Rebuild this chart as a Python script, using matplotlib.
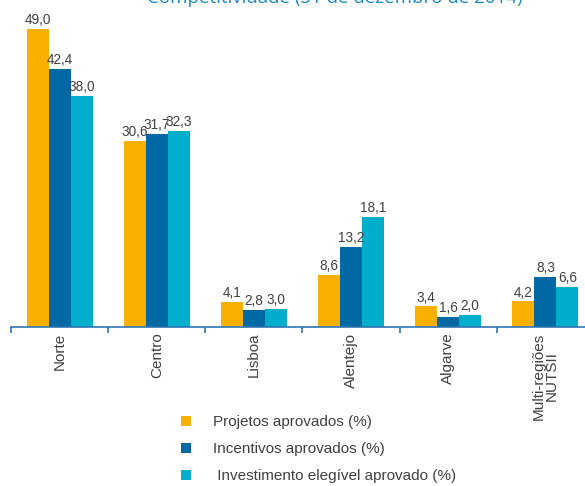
import numpy as np
import matplotlib.pyplot as plt
from matplotlib.patches import Patch

regioes = ["Norte", "Centro", "Lisboa", "Alentejo", "Algarve", "Multi-regiões\nNUTSII"]
projetos = [49.0, 30.6, 4.1, 8.6, 3.4, 4.2]
incentivos = [42.4, 31.7, 2.8, 13.2, 1.6, 8.3]
investimento = [38.0, 32.3, 3.0, 18.1, 2.0, 6.6]
series_names = ["Projetos aprovados (%)", "Incentivos aprovados (%)",
                " Investimento elegível aprovado (%)"]
colors = ["#F9B000", "#0068A3", "#00AECB"]

plt.rcParams['font.family'] = ['Liberation Sans', 'DejaVu Sans']

fig = plt.figure(figsize=(5.85, 4.86), dpi=100)
ax = fig.add_axes([11 / 585, 159 / 486, 583 / 585, 310 / 486])

x = np.arange(len(regioes))
w = 0.226
for i, vals in enumerate([projetos, incentivos, investimento]):
    pos = x + (i - 1) * w
    ax.bar(pos, vals, width=w, color=colors[i])
    for p, v in zip(pos, vals):
        ax.text(p, v + 0.3, f"{v:.1f}".replace(".", ","), ha="center", va="bottom",
                fontsize=9.8, color="#404040")

ax.set_xlim(-0.5, 5.5)
ax.set_ylim(0, 51)
for s in ["top", "right", "left"]:
    ax.spines[s].set_visible(False)
ax.spines["bottom"].set_color("#2E75B6")
ax.spines["bottom"].set_linewidth(1.2)
ax.set_yticks([])
ax.set_xticks(x)
ax.set_xticklabels(regioes, rotation=90, fontsize=11, color="#404040",
                   linespacing=0.95)
ax.tick_params(axis="x", which="major", length=0, pad=4)
ax.set_xticks(np.arange(-0.5, 6, 1), minor=True)
ax.tick_params(axis="x", which="minor", length=4.5, width=1.2, color="#2E75B6")

fig.text(335 / 585, 1 - 3 / 486, "Competitividade (31 de dezembro de 2014)",
         ha="center", va="baseline", fontsize=13.5, color="#1A8BC6",
         family=["Open Sans", "DejaVu Sans"])

handles = [Patch(facecolor=c) for c in colors]
fig.legend(handles, series_names, loc="upper left",
           bbox_to_anchor=(175 / 585, 1 - 409 / 486), frameon=False,
           fontsize=11, labelcolor="#404040", handlelength=0.65, handleheight=0.65,
           handletextpad=1.45, labelspacing=0.85, borderaxespad=0)

fig.savefig("out.png", dpi=100)
